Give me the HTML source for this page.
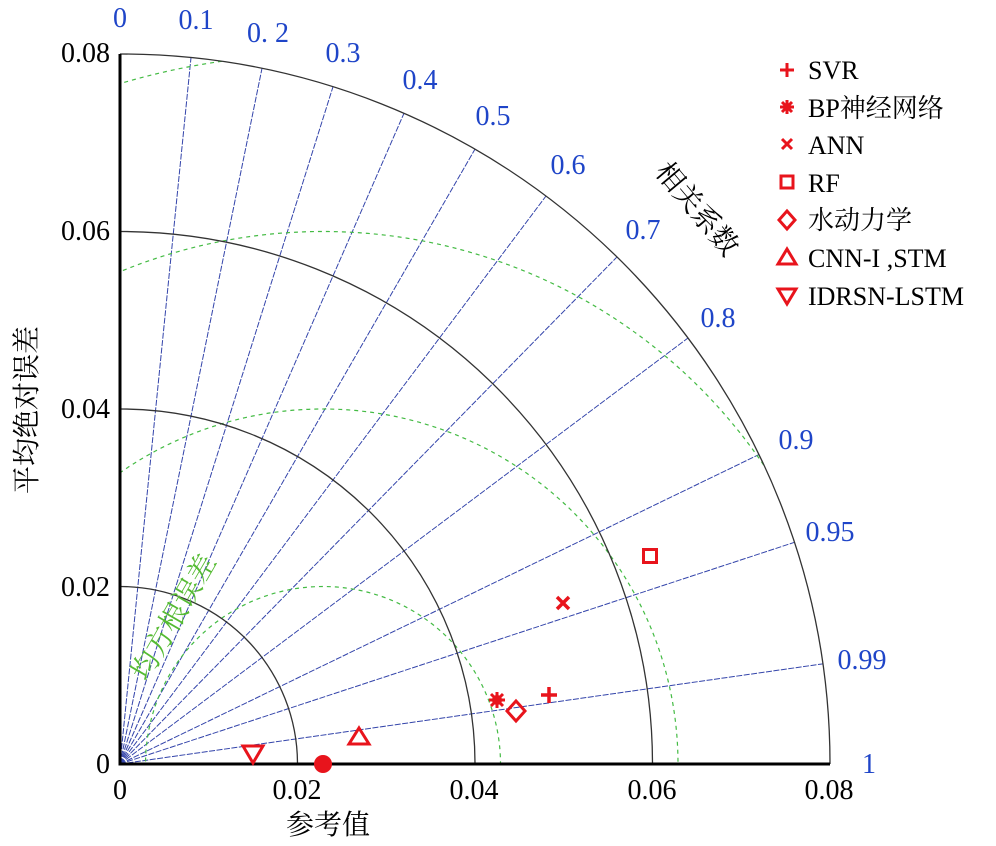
<!DOCTYPE html>
<html><head><meta charset="utf-8"><style>
html,body{margin:0;padding:0;background:#fff;width:996px;height:846px;overflow:hidden}
svg{display:block}
text{font-family:"Liberation Serif","Noto Serif CJK SC",serif}
</style></head><body>
<svg id="s" width="996" height="846" viewBox="0 0 996 846" xmlns="http://www.w3.org/2000/svg">
<defs><clipPath id="c"><path d="M120,764 L120,54 A710,710 0 0 1 830,764 Z"/></clipPath></defs>
<g id="rad" stroke="#3344aa" stroke-width="1" stroke-dasharray="6,1.5" fill="none"></g>
<g clip-path="url(#c)" fill="none" stroke="#44bb44" stroke-width="1.2" stroke-dasharray="4,4">
<circle cx="323" cy="764" r="177.5"/><circle cx="323" cy="764" r="355"/><circle cx="323" cy="764" r="532.5"/><circle cx="323" cy="764" r="710"/>
</g>
<g fill="none" stroke="#333" stroke-width="1.3">
<path d="M120,586.5 A177.5,177.5 0 0 1 297.5,764"/>
<path d="M120,409 A355,355 0 0 1 475,764"/>
<path d="M120,231.5 A532.5,532.5 0 0 1 652.5,764"/>
<path d="M120,54 A710,710 0 0 1 830,764"/>
</g>
<path d="M120,54 L120,764 L830,764" fill="none" stroke="#000" stroke-width="3"/>
<g font-size="28" fill="#000" text-anchor="end">
<text x="110" y="62">0.08</text><text x="110" y="240">0.06</text><text x="110" y="418">0.04</text><text x="110" y="596">0.02</text><text x="110" y="773">0</text>
</g>
<g font-size="28" fill="#000" text-anchor="middle">
<text x="120" y="799">0</text><text x="297" y="799">0.02</text><text x="474" y="799">0.04</text><text x="652" y="799">0.06</text><text x="829" y="799">0.08</text>
</g>
<text x="328" y="834" font-size="28" text-anchor="middle">参考值</text>
<text transform="translate(36,410) rotate(-90)" font-size="28" text-anchor="middle">平均绝对误差</text>
<text transform="translate(182,622) rotate(-60)" font-size="28" fill="#55bb33" text-anchor="middle">均方根误差</text>
<text transform="translate(690,215) rotate(50)" font-size="28" fill="#000" text-anchor="middle">相关系数</text>
<g font-size="28" fill="#1f45c8" text-anchor="middle">
<text x="120" y="27">0</text><text x="196" y="29">0.1</text><text x="268" y="42">0. 2</text><text x="343" y="62">0.3</text><text x="420" y="89">0.4</text><text x="493" y="125">0.5</text><text x="568" y="174">0.6</text><text x="643" y="239">0.7</text><text x="718" y="327">0.8</text><text x="796" y="449">0.9</text><text x="830" y="541">0.95</text><text x="862" y="669">0.99</text><text x="869" y="773">1</text>
</g>
<g fill="#e8141c" stroke="#e8141c">
<path d="M541,695 h16 M549,687 v16" stroke-width="3.5" fill="none"/>
<g transform="translate(497,700)" stroke-width="3"><path d="M-8,0h16M0,-8v16M-6,-6l12,12M-6,6l12,-12"/><circle r="5" stroke="none"/></g>
<path d="M557,597 l12,12 M569,597 l-12,12" stroke-width="3.5"/>
<rect x="643.5" y="549.5" width="13" height="13" fill="none" stroke-width="3"/>
<path d="M516,701 l9,10 l-9,10 l-9,-10 Z" fill="none" stroke-width="3"/>
<path d="M359,728 l10,16 h-20 Z" fill="none" stroke-width="3"/>
<path d="M243,746 h20 l-10,17 Z" fill="none" stroke-width="3"/>
<circle cx="323" cy="764" r="9" stroke="none"/>
</g>
<g fill="#e8141c" stroke="#e8141c" stroke-width="3">
<path d="M780,70 h14 M787,63 v14" fill="none"/>
<g transform="translate(787,107)"><path d="M-7,0h14M0,-7v14M-5,-5l10,10M-5,5l10,-10"/><circle r="4" stroke="none"/></g>
<path d="M782,139 l10,10 M792,139 l-10,10" fill="none"/>
<rect x="781" y="176" width="12" height="12" fill="none"/>
<path d="M787,211 l8,9 l-8,9 l-8,-9 Z" fill="none"/>
<path d="M787,249 l9,15 h-18 Z" fill="none"/>
<path d="M778,289 h18 l-9,15 Z" fill="none"/>
</g>
<g font-size="26" fill="#000">
<text x="808" y="79">SVR</text><text x="808" y="117">BP神经网络</text><text x="808" y="154">ANN</text><text x="808" y="192">RF</text><text x="808" y="229">水动力学</text><text x="808" y="267">CNN-I ,STM</text><text x="808" y="305">IDRSN-LSTM</text>
</g>
</svg>
<script>
var g=document.getElementById('rad'),cs=[0.1,0.2,0.3,0.4,0.5,0.6,0.7,0.8,0.9,0.95,0.99];
cs.forEach(function(c){var a=Math.acos(c);var x=120+710*Math.cos(a),y=764-710*Math.sin(a);
var l=document.createElementNS('http://www.w3.org/2000/svg','line');l.setAttribute('x1',120);l.setAttribute('y1',764);l.setAttribute('x2',x);l.setAttribute('y2',y);g.appendChild(l);});
</script>
</body></html>
